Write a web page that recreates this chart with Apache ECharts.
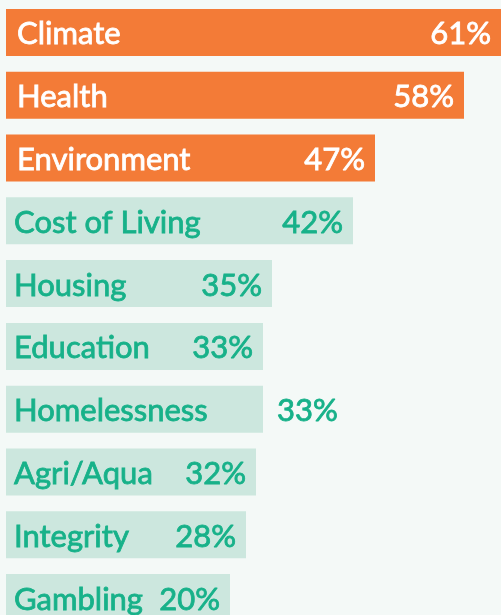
<!DOCTYPE html>
<html>
<head>
<meta charset="utf-8">
<script src="https://cdn.jsdelivr.net/npm/echarts@6/dist/echarts.min.js"></script>
<style>
  html, body { margin: 0; padding: 0; background: #f4f9f7; }
  #chart { width: 501px; height: 615px; }
</style>
</head>
<body>
<div id="chart"></div>
<script>
// topics, top to bottom
const topics = ['Climate', 'Health', 'Environment', 'Cost of Living', 'Housing', 'Education',
  'Homelessness', 'Agri/Aqua', 'Integrity', 'Gambling'];
// share of respondents (%)
const percents = [61, 58, 47, 42, 35, 33, 33, 32, 28, 20];
// drawn bar length (bars fit their labels, not the percent)
const barLength = [495, 458, 369, 347, 266, 257, 257, 250, 240, 224];
// first three topics are highlighted
const highlightCount = 3;

const ORANGE = '#f37b37';
const TEAL_BAR = '#cce7de';
const TEAL_TEXT = '#17b189';
const FONT = 'Lato';

const chart = echarts.init(document.getElementById('chart'));

const barData = barLength.map((v, i) => {
  const hot = i < highlightCount;
  const c = hot ? '#ffffff' : TEAL_TEXT;
  return {
    value: v,
    itemStyle: {color: hot ? ORANGE : TEAL_BAR},
    label: {color: c, textBorderColor: c, distance: hot ? 11 : 8}
  };
});

const valueData = barLength.map((v, i) => {
  const hot = i < highlightCount;
  const c = hot ? '#ffffff' : TEAL_TEXT;
  const item = {
    value: v,
    label: {color: c, textBorderColor: c}
  };
  // Homelessness value sits outside its bar
  if (topics[i] === 'Homelessness') {
    item.label.position = 'right';
    item.label.distance = 14;
  }
  return item;
});

const labelFont = {
  fontFamily: FONT,
  fontSize: 31,
  fontWeight: 'normal',
  textBorderWidth: 0.8,
  offset: [0, 2]
};

const option = {
  backgroundColor: '#f4f9f7',
  animation: false,
  grid: {left: 6, top: 1.1, width: 495, height: 627.8, outerBoundsMode: 'none'},
  xAxis: {
    type: 'value',
    min: 0,
    max: 495,
    show: false
  },
  yAxis: {
    type: 'category',
    data: topics,
    inverse: true,
    show: false
  },
  series: [
    {
      type: 'bar',
      data: barData,
      barWidth: 47,
      silent: true,
      label: Object.assign({
        show: true,
        position: 'insideLeft',
        formatter: (p) => topics[p.dataIndex]
      }, labelFont)
    },
    {
      type: 'bar',
      data: valueData,
      barWidth: 47,
      barGap: '-100%',
      silent: true,
      itemStyle: {color: 'rgba(0,0,0,0)'},
      label: Object.assign({
        show: true,
        position: 'insideRight',
        distance: 10,
        formatter: (p) => percents[p.dataIndex] + '%'
      }, labelFont)
    }
  ]
};

chart.setOption(option);
</script>
</body>
</html>
